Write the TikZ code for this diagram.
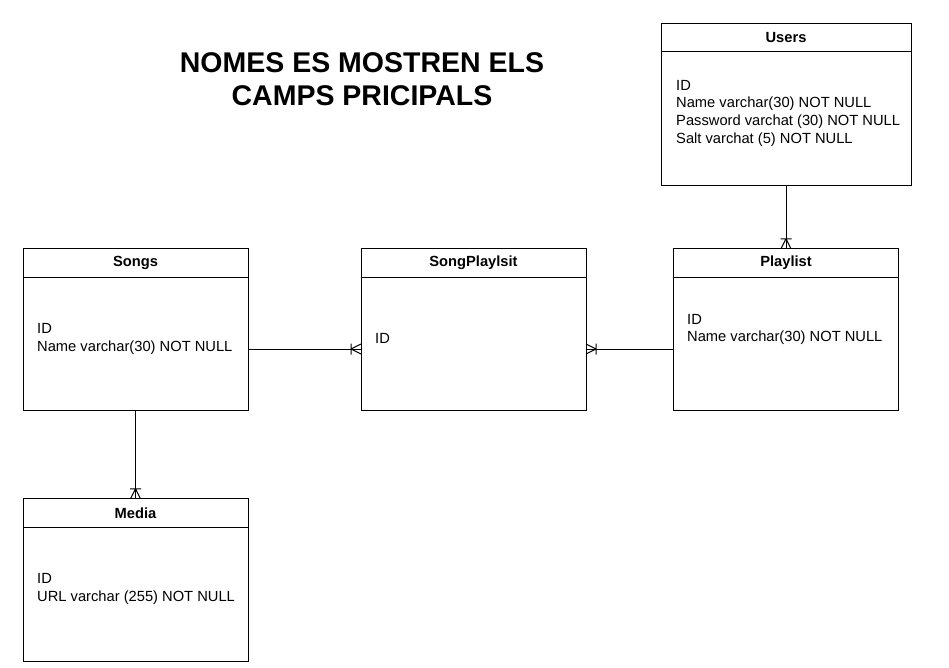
\documentclass[tikz,border=0pt]{standalone}
\usepackage{fontspec}
\setmainfont{Liberation Sans}
\usetikzlibrary{positioning}

\tikzset{
  tblhead/.style={draw, line width=1pt, outer sep=0pt, inner sep=0pt, minimum height=28.5pt,
    font=\bfseries\fontsize{14.7}{17.8}\selectfont},
  tblbody/.style={draw, line width=1pt, outer sep=0pt, inner sep=0pt, minimum height=133.5pt},
  fields/.style={anchor=west, align=left, inner sep=0pt, font=\fontsize{14.7}{17.8}\selectfont},
  link/.style={line width=1pt},
  crowfoot/.pic={\draw[link] (-10,-5.5) -- (-10,5.5) (-10,0) -- (0,5) (-10,0) -- (0,-5);}
}

\begin{document}
\begin{tikzpicture}[x=1pt, y=-1pt]
	\useasboundingbox (0,0) rectangle (949,668);

	\node[font=\bfseries\fontsize{28.5}{33.3}\selectfont, align=center] (title) at (362,79)
		{NOMES ES MOSTREN ELS\\CAMPS PRICIPALS};

	% Users
	\node[tblhead, minimum width=250pt] (users) at (786,37.5) {Users};
	\node[tblbody, minimum width=250pt, minimum height=134pt, below=0pt of users] (usersbody) {};
	\node[fields] (usersfields) at ([xshift=15pt,yshift=5.5pt]usersbody.west)
		{ID\\Name varchar(30) NOT NULL\\Password varchat (30) NOT NULL\\Salt varchat (5) NOT NULL};

	% Playlist
	\node[tblhead, minimum width=225pt] (playlist) at (786,263) {Playlist};
	\node[tblbody, minimum width=225pt, below=0pt of playlist] (playlistbody) {};
	\node[fields] (playlistfields) at ([xshift=13.5pt,yshift=14.5pt]playlistbody.west)
		{ID\\Name varchar(30) NOT NULL};

	% SongPlaylsit
	\node[tblhead, minimum width=225pt] (sp) at (473.5,263) {SongPlaylsit};
	\node[tblbody, minimum width=225pt, below=0pt of sp] (spbody) {};
	\node[fields] (spfields) at ([xshift=14pt,yshift=5.5pt]spbody.west) {ID};

	% Songs
	\node[tblhead, minimum width=225pt] (songs) at (135.5,263) {Songs};
	\node[tblbody, minimum width=225pt, below=0pt of songs] (songsbody) {};
	\node[fields] (songsfields) at ([xshift=14pt,yshift=5pt]songsbody.west)
		{ID\\Name varchar(30) NOT NULL};

	% Media
	\node[tblhead, minimum width=225pt] (media) at (135.5,513) {Media};
	\node[tblbody, minimum width=225pt, minimum height=134pt, below=0pt of media] (mediabody) {};
	\node[fields] (mediafields) at ([xshift=14pt,yshift=5.5pt]mediabody.west)
		{ID\\URL varchar (255) NOT NULL};

	% relations
	\draw[link] (usersbody.south) -- (playlist.north);
	\pic[rotate=-90] at (playlist.north) {crowfoot};
	\draw[link] ([yshift=-5pt]songsbody.east) -- ([yshift=-5pt]spbody.west);
	\pic at ([yshift=-5pt]spbody.west) {crowfoot};
	\draw[link] ([yshift=-5pt]playlistbody.west) -- ([yshift=-5pt]spbody.east);
	\pic[rotate=180] at ([yshift=-5pt]spbody.east) {crowfoot};
	\draw[link] (songsbody.south) -- (media.north);
	\pic[rotate=-90] at (media.north) {crowfoot};
\end{tikzpicture}
\end{document}
